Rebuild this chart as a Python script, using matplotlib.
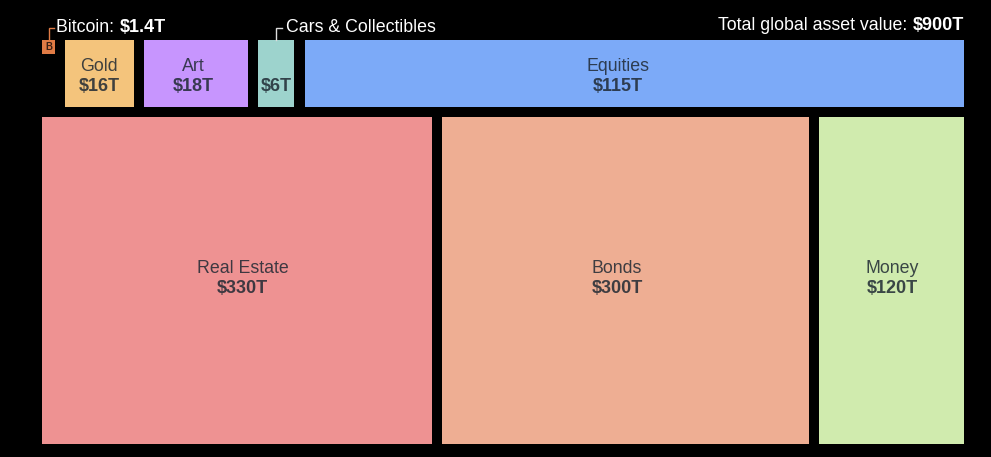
import matplotlib
matplotlib.use('Agg')
import matplotlib.pyplot as plt

# values as labelled in the chart
top_names = ['Bitcoin', 'Gold', 'Art', 'Cars & Collectibles', 'Equities']
top_values = ['$1.4T', '$16T', '$18T', '$6T', '$115T']
bottom_names = ['Real Estate', 'Bonds', 'Money']
bottom_values = ['$330T', '$300T', '$120T']
total_value = '$900T'

# tile widths, the tiles are not proportional to the labels
top_widths = [13, 69, 104, 36, 659]
top_gaps = [10, 10, 10, 11, 0]
bottom_widths = [390, 367, 145]

# labels sit off centre in some tiles
top_shift = [0, -0.5, -3, 0.5, -17]
bottom_shift = [5.5, -8.5, 0.5]

top_colors = ['#e07b45', '#f4c47c', '#c795fe', '#9dd3cd', '#7caaf8']
bottom_colors = ['#ee9292', '#eeae93', '#d0ebae']

plt.rcParams['font.family'] = ['Liberation Sans', 'DejaVu Sans']

fig = plt.figure(figsize=(9.91, 4.57), dpi=100, facecolor='black')
ax = fig.add_axes([0, 0, 1, 1])
ax.set_xlim(0, 991)
ax.set_ylim(457, 0)
ax.axis('off')

left = 42
gap = 10
text_color = '#1f2933'
fs = 12.8
fs_bold = 13


def mixed(x, y, normal, bold, color='white', right=False):
    # regular text followed by bold text on one line
    r = fig.canvas.get_renderer()
    if right:
        b = ax.text(x, y, bold, color=color, fontsize=fs_bold, fontweight='bold', ha='right', va='center')
        x0 = b.get_window_extent(r).x0
        ax.text(x0, y, normal, color=color, fontsize=fs, ha='right', va='center')
    else:
        a = ax.text(x, y, normal, color=color, fontsize=fs, ha='left', va='center')
        x1 = a.get_window_extent(r).x1
        ax.text(x1, y, bold, color=color, fontsize=fs_bold, fontweight='bold', ha='left', va='center')


# top row
x = left
centers = []
for name, width, color, g, s in zip(top_names, top_widths, top_colors, top_gaps, top_shift):
    if name == 'Bitcoin':
        ax.bar(x, 14, width=width, bottom=40, align='edge', color=color, linewidth=0)
    else:
        ax.bar(x, 67, width=width, bottom=40, align='edge', color=color, linewidth=0)
    centers.append(x + width / 2 + s)
    x += width + g

for i in [1, 2, 4]:
    ax.text(centers[i], 66.5, top_names[i], color=text_color, alpha=0.85, fontsize=fs, ha='center', va='center')
    ax.text(centers[i], 86.5, top_values[i], color=text_color, alpha=0.85, fontsize=fs_bold, fontweight='bold', ha='center', va='center')
ax.text(centers[3], 86.5, top_values[3], color=text_color, alpha=0.85, fontsize=fs_bold, fontweight='bold', ha='center', va='center')
ax.text(centers[0], 47.5, 'B', color='#3a2015', fontsize=7, fontweight='bold', ha='center', va='center')

# bottom row
x = left
for name, value, width, color, s in zip(bottom_names, bottom_values, bottom_widths, bottom_colors, bottom_shift):
    ax.bar(x, 327, width=width, bottom=117, align='edge', color=color, linewidth=0)
    ax.text(x + width / 2 + s, 268.5, name, color=text_color, alpha=0.85, fontsize=fs, ha='center', va='center')
    ax.text(x + width / 2 + s, 288.5, value, color=text_color, alpha=0.85, fontsize=fs_bold, fontweight='bold', ha='center', va='center')
    x += width + gap

# leader lines and outside labels
ax.plot([centers[0], centers[0], 54], [40, 28, 28], color=top_colors[0], lw=1, solid_joinstyle='miter')
ax.plot([275.5, 275.5, 282], [40, 28, 28], color='#dddddd', lw=1, solid_joinstyle='miter')
mixed(56.5, 27, 'Bitcoin: ', top_values[0])
ax.text(286, 27, top_names[3], color='white', fontsize=fs, ha='left', va='center')
mixed(964, 26, 'Total global asset value: ', total_value, right=True)

fig.savefig('out.png', dpi=100, facecolor='black')
